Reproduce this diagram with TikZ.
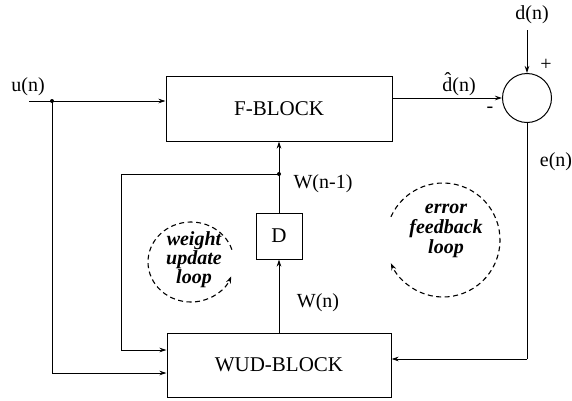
\documentclass[tikz,border=0pt]{standalone}
\usepackage{fontspec}
\setmainfont{Liberation Serif}
\usetikzlibrary{arrows.meta,calc}
\begin{document}
\begin{tikzpicture}[x=1pt,y=-1pt,
  blk/.style={draw,line width=1pt,rectangle,inner sep=0pt,font=\fontsize{21}{21}\selectfont},
  lbl/.style={inner sep=0pt,font=\fontsize{20}{20}\selectfont},
  wire/.style={line width=0.9pt},
  arr/.style={wire,-{Stealth[length=7pt,width=4.5pt]}},
  dot/.style={circle,fill,inner sep=0pt,minimum size=4pt},
  loopline/.style={line width=1.1pt,dash pattern=on 5pt off 3.5pt},
  looparr/.style={loopline,-{Stealth[length=7pt,width=5pt,open]}},
  looptext/.style={inner sep=0pt,align=center,font=\bfseries\itshape}
]
\useasboundingbox (0,0) rectangle (572,400);
% blocks
\node[blk,minimum width=226pt,minimum height=65pt] (fblock) at (279,108.5) {F-BLOCK};
\node[blk,minimum width=224pt,minimum height=64pt] (wud) at (279,365) {WUD-BLOCK};
\node[blk,minimum width=46pt,minimum height=46pt] (dly) at (279,236) {D};
\node[draw,line width=1pt,circle,minimum size=49pt,inner sep=0pt] (sum) at (527,98) {};
% coordinates
\coordinate (uin) at (29,101);
\node[dot] (j1) at (52,101) {};
\node[dot] (j2) at (279,174) {};
\coordinate (u2) at (52,373);
\coordinate (f1) at (121,174);
\coordinate (f2) at (121,350);
\coordinate (dtop) at (527,30);
\coordinate (e1) at (527,359);
% wires
\draw[arr,line width=0.7pt] (uin) -- (fblock.west |- uin);
\draw[wire] (j1.center) -- (u2);
\draw[arr] (u2) -- (wud.west |- u2);
\draw[arr] (fblock.east |- sum.west) -- (sum.west);
\draw[arr] (dtop) -- (sum.north);
\draw[wire] (sum.south) -- (e1);
\draw[arr] (e1) -- (wud.east |- e1);
\draw[arr] (wud.north) -- (dly.south);
\draw[arr] (dly.north) -- (fblock.south);
\draw[wire] (j2.center) -- (f1) -- (f2);
\draw[arr] (f2) -- (wud.west |- f2);
% labels
\node[lbl] (lu) at (28,87) {u(n)};
\node[lbl] (ld) at (532,15) {d(n)};
\node[lbl] (lplus) at (546,65) {+};
\node[lbl] (ldhat) at (459,84) {d\char"0302(n)};
\node[lbl] (lminus) at (490,110) {-};
\node[lbl] (le) at (556,162) {e(n)};
\node[lbl] (lw1) at (323,184) {W(n-1)};
\node[lbl] (lw) at (318,303) {W(n)};
% loops
\draw[looparr] (191,262) ++(-18:43 and 40) arc[start angle=-18,end angle=-339,x radius=43,y radius=40];
\node[looptext,font=\fontsize{20}{17}\selectfont\bfseries\itshape] (wl) at (194,260) {weight\\update\\loop};
\draw[looparr] (443,240) ++(-156:57) arc[start angle=-156,end angle=156,radius=57];
\node[looptext,font=\fontsize{20}{20}\selectfont\bfseries\itshape] (el) at (446,231) {error\\feedback\\loop};
\end{tikzpicture}
\end{document}
